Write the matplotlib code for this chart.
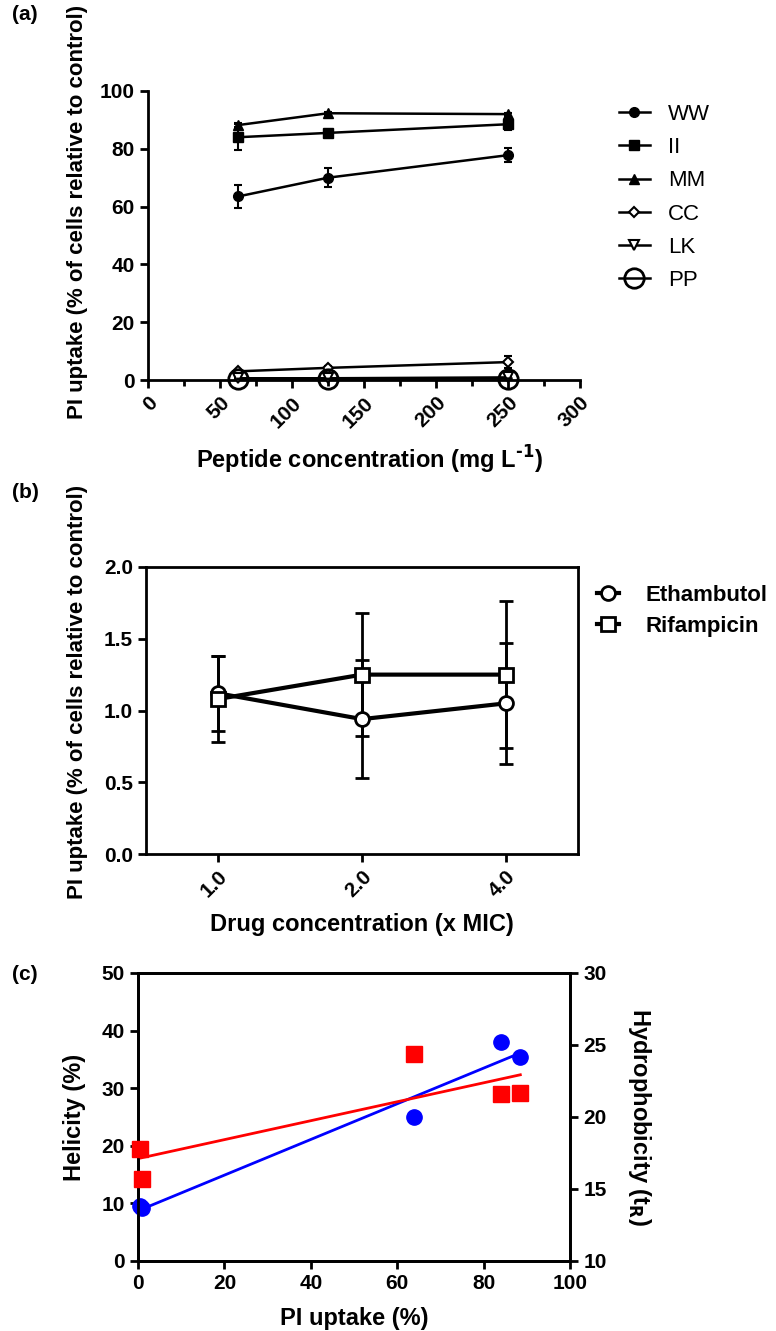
import numpy as np
import matplotlib
matplotlib.use("Agg")
import matplotlib.pyplot as plt
from matplotlib.ticker import FormatStrFormatter

plt.rcParams['font.family'] = ['Liberation Sans', 'DejaVu Sans']
plt.rcParams['font.weight'] = 'bold'
plt.rcParams['mathtext.default'] = 'bf'

W, H = 776, 1331
TICK_FS = 15
LABEL_FS = 17
YLABEL_FS = 16

# (a) peptide concentration series
pep_conc = [62.5, 125, 250]
pep_names = ['WW', 'II', 'MM', 'CC', 'LK', 'PP']
ww = [63.5, 70.0, 77.8]
ww_err = [4.0, 3.2, 2.5]
ii = [84.0, 85.5, 88.5]
ii_err = [4.5, 1.0, 2.0]
mm = [88.2, 92.3, 92.0]
mm_err = [0.6, 0.5, 0.5]
cc = [3.0, 4.2, 6.2]
cc_err = [0.5, 0.5, 2.0]
lk = [0.6, 0.6, 0.9]
lk_err = [0.3, 0.3, 0.4]
pp = [0.4, 0.4, 0.5]
pp_err = [0.2, 0.2, 0.2]

# (b) drug concentration series
drug_labels = ['1.0', '2.0', '4.0']
etham = [1.12, 0.94, 1.05]
etham_err = [0.26, 0.41, 0.42]
rifam = [1.08, 1.25, 1.25]
rifam_err = [0.30, 0.43, 0.51]

# (c) helicity / hydrophobicity vs PI uptake
pi_uptake = [0.5, 1.0, 63.8, 84.0, 88.5]
helicity = [9.5, 9.2, 25.0, 38.0, 35.5]
hydro = [17.8, 15.7, 24.4, 21.6, 21.7]


def px_axes(fig, l, t, r, b):
    return fig.add_axes([l / W, 1 - b / H, (r - l) / W, (b - t) / H])


def px_text(fig, x, y, s, **kw):
    kw.setdefault('ha', 'center')
    kw.setdefault('va', 'center')
    kw.setdefault('fontweight', 'bold')
    return fig.text(x / W, 1 - y / H, s, **kw)


def style_ticks(ax):
    ax.tick_params(width=2, length=6, direction='out', labelsize=TICK_FS)
    for lab in ax.get_xticklabels() + ax.get_yticklabels():
        lab.set_fontweight('bold')


fig = plt.figure(figsize=(W / 100, H / 100), dpi=100)

# ---------------- (a) ----------------
ax = px_axes(fig, 148, 91, 580, 380)
series = [
    (ww, ww_err, dict(marker='o', ms=7, mfc='black')),
    (ii, ii_err, dict(marker='s', ms=7, mfc='black')),
    (mm, mm_err, dict(marker='^', ms=7, mfc='black')),
    (cc, cc_err, dict(marker='D', ms=5, mfc='white', mew=1.5)),
    (lk, lk_err, dict(marker='v', ms=7, mfc='white', mew=1.5)),
    (pp, pp_err, dict(marker='o', ms=14, mfc='none', mew=2)),
]
handles = []
for name, (vals, errs, mk) in zip(pep_names, series):
    eb = ax.errorbar(pep_conc, vals, yerr=errs, color='black', lw=1.8,
                     capsize=3, capthick=1.5, elinewidth=1.5, mec='black',
                     label=name, clip_on=False, zorder=3, **mk)
    handles.append(eb[0])
ax.set_xlim(0, 300)
ax.set_ylim(0, 100)
ax.set_xticks(np.arange(0, 301, 50))
ax.set_xticks(np.arange(25, 300, 50), minor=True)
ax.set_yticks(np.arange(0, 101, 20))
ax.tick_params(axis='x', which='minor', width=2, length=4)
for s in ['top', 'right']:
    ax.spines[s].set_visible(False)
for s in ['left', 'bottom']:
    ax.spines[s].set_linewidth(2)
style_ticks(ax)
plt.setp(ax.get_xticklabels(), rotation=45, ha='right', rotation_mode='anchor')
px_text(fig, 370, 460, 'Peptide concentration (mg L$^{\\text{-1}}$)',
        fontsize=LABEL_FS)
fig.legend(handles, pep_names, loc='upper left',
           bbox_to_anchor=(610 / W, 1 - 95 / H), frameon=False,
           prop=dict(size=16, weight='normal'), handlelength=1.4,
           labelspacing=0.55, borderaxespad=0, handletextpad=0.8)
px_text(fig, 78, 212, 'PI uptake (% of cells relative to control)',
        rotation=90, fontsize=YLABEL_FS)
px_text(fig, 12, 15, '(a)', ha='left', fontsize=15)

# ---------------- (b) ----------------
bx = px_axes(fig, 146, 567, 578, 854)
xpos = np.arange(len(drug_labels))
e1 = bx.errorbar(xpos, etham, yerr=etham_err, color='black', lw=3, marker='o',
                 ms=10, mfc='white', mec='black', mew=2, capsize=5,
                 capthick=2, elinewidth=2, zorder=3)
e2 = bx.errorbar(xpos, rifam, yerr=rifam_err, color='black', lw=3, marker='s',
                 ms=10, mfc='white', mec='black', mew=2, capsize=5,
                 capthick=2, elinewidth=2, zorder=3)
bx.set_xlim(-0.5, 2.5)
bx.set_ylim(0, 2.0)
bx.set_xticks(xpos)
bx.set_xticklabels(drug_labels)
bx.set_yticks(np.arange(0, 2.01, 0.5))
bx.yaxis.set_major_formatter(FormatStrFormatter('%.1f'))
for s in bx.spines.values():
    s.set_linewidth(2)
style_ticks(bx)
plt.setp(bx.get_xticklabels(), rotation=45, ha='right', rotation_mode='anchor')
px_text(fig, 362, 925, 'Drug concentration (x MIC)', fontsize=LABEL_FS)
fig.legend([e1[0], e2[0]], ['Ethambutol', 'Rifampicin'], loc='upper left',
           bbox_to_anchor=(588 / W, 1 - 576 / H), frameon=False,
           prop=dict(size=16, weight='bold'), handlelength=1.0,
           labelspacing=0.45, borderaxespad=0, handletextpad=1.2)
px_text(fig, 78, 692, 'PI uptake (% of cells relative to control)',
        rotation=90, fontsize=YLABEL_FS)
px_text(fig, 12, 492, '(b)', ha='left', fontsize=15)

# ---------------- (c) ----------------
cx = px_axes(fig, 138, 973, 570, 1261)
cx2 = cx.twinx()
pi_arr = np.array(pi_uptake)
hel_fit = np.polyfit(pi_arr, helicity, 1)
hyd_fit = np.polyfit(pi_arr, hydro, 1)
xs = np.array([pi_arr.min(), pi_arr.max()])
cx.plot(xs, np.polyval(hel_fit, xs), color='blue', lw=2, zorder=2)
cx.plot(pi_uptake, helicity, 'o', color='blue', ms=11, zorder=3,
        clip_on=False)
cx2.plot(xs, np.polyval(hyd_fit, xs), color='red', lw=2, zorder=2)
cx2.plot(pi_uptake, hydro, 's', color='red', ms=11, zorder=3, clip_on=False)
cx.set_xlim(0, 100)
cx.set_ylim(0, 50)
cx2.set_ylim(10, 30)
cx.set_xticks(np.arange(0, 101, 20))
cx.set_yticks(np.arange(0, 51, 10))
cx2.set_yticks(np.arange(10, 31, 5))
for a in (cx, cx2):
    for s in a.spines.values():
        s.set_linewidth(2)
    style_ticks(a)
px_text(fig, 354, 1318, 'PI uptake (%)', fontsize=LABEL_FS)
px_text(fig, 74, 1117, 'Helicity (%)', rotation=90, fontsize=LABEL_FS)
px_text(fig, 640, 1117, 'Hydrophobicity (t$_{R}$)', rotation=270,
        fontsize=LABEL_FS)
px_text(fig, 12, 975, '(c)', ha='left', fontsize=15)

fig.savefig('out.png', dpi=100)
